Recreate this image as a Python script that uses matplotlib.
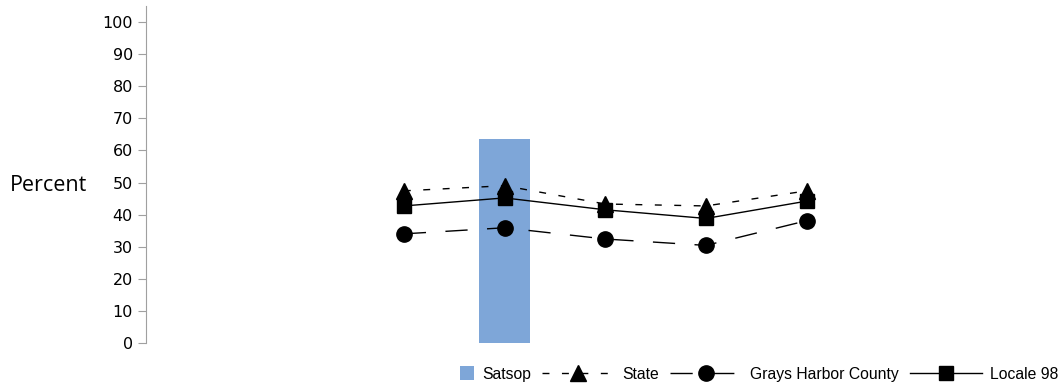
import numpy as np
import matplotlib.pyplot as plt
from matplotlib.lines import Line2D
from matplotlib.patches import Rectangle
from matplotlib.legend_handler import HandlerBase

categories = ["c1", "c2", "c3", "c4", "c5"]
satsop = [np.nan, 63.6, np.nan, np.nan, np.nan]
state = [47.4, 49.0, 43.3, 42.7, 47.4]
grays_harbor = [34.0, 35.9, 32.4, 30.4, 38.1]
locale_98 = [42.7, 45.2, 41.5, 38.8, 44.2]

bar_color = "#7ea6d8"
state_ls = (0, (5, 9))
county_ls = (0, (16, 14))


class SquareHandler(HandlerBase):
    # small square sitting at the right end of the handle box
    def create_artists(self, legend, orig_handle, xdescent, ydescent,
                       width, height, fontsize, trans):
        s = fontsize * 0.92
        r = Rectangle((width - xdescent - s, height / 2 - ydescent - s / 2), s, s,
                      facecolor=bar_color, edgecolor="none", transform=trans)
        return [r]


fig = plt.figure(figsize=(10.62, 3.88), dpi=100)
ax = fig.add_axes([0.1375, 0.116, 0.8117, 0.8686])

x = np.arange(len(categories))
ax.bar(x, satsop, width=0.5, color=bar_color, zorder=1)
ax.plot(x, state, color="black", linestyle=state_ls, linewidth=1,
        marker="^", markersize=11, zorder=3)
ax.plot(x, grays_harbor, color="black", linestyle=county_ls, linewidth=1,
        marker="o", markersize=11, zorder=3)
ax.plot(x, locale_98, color="black", linestyle="-", linewidth=1,
        marker="s", markersize=10, zorder=4)

ax.set_xlim(-2.56, 6.0)
ax.set_ylim(0, 105)
ax.set_yticks(range(0, 101, 10))
ax.set_xticks([])
for s in ["top", "right", "bottom"]:
    ax.spines[s].set_visible(False)
ax.spines["left"].set_color("#a0a0a0")
ax.tick_params(axis="y", colors="#a0a0a0", labelcolor="black", length=6,
               labelsize=11.5)
ax.set_ylabel("Percent", rotation=0, fontsize=15.5, family="Open Sans",
              ha="right", va="center")
ax.yaxis.set_label_coords(-0.068, 0.466)

handles = [
    Rectangle((0, 0), 1, 1, color=bar_color),
    Line2D([], [], color="black", linestyle=state_ls, linewidth=1, marker="^", markersize=11),
    Line2D([], [], color="black", linestyle=county_ls, linewidth=1, marker="o", markersize=11),
    Line2D([], [], color="black", linestyle="-", linewidth=1, marker="s", markersize=10),
]
labels = ["Satsop", "State", "Grays Harbor County", "Locale 98"]
fig.legend(handles, labels, loc="lower right", bbox_to_anchor=(1.0094, -0.02),
           ncol=4, frameon=False, handlelength=4.6, columnspacing=0.7,
           handletextpad=0.5, handler_map={Rectangle: SquareHandler()},
           prop={"family": "Liberation Sans", "size": 11.3})

fig.savefig("out.png", dpi=100)
